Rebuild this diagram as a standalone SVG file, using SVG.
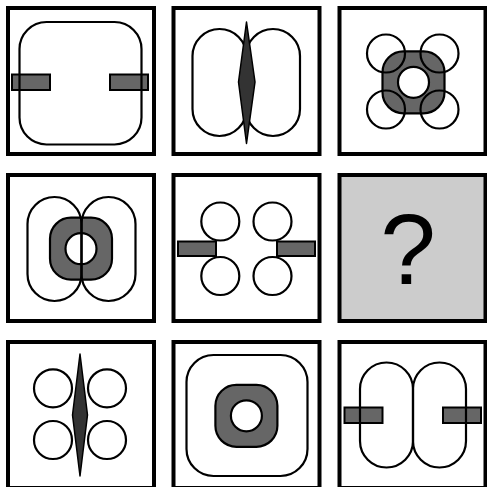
<svg xmlns="http://www.w3.org/2000/svg" xmlns:xlink="http://www.w3.org/1999/xlink" width="487" height="487" viewBox="0 0 487 487">
<style>
.frame{fill:#fff;stroke:#000;stroke-width:4}
.qf{fill:#ccc;stroke:#000;stroke-width:4}
.ol{fill:none;stroke:#000;stroke-width:2.2}
.bar{fill:#666;stroke:#000;stroke-width:2}
.dia{fill:#333;stroke:#000;stroke-width:1.5;stroke-linejoin:round}
.donut{fill:#666;stroke:#000;stroke-width:2.2;fill-rule:evenodd}
.q{font-family:"Liberation Sans",Arial,sans-serif;font-size:100px;fill:#000;text-anchor:middle}
</style>
<defs>
<path id="donut" class="donut" d="M -10 -31 H 10 A 21 21 0 0 1 31 -10 V 10 A 21 21 0 0 1 10 31 H -10 A 21 21 0 0 1 -31 10 V -10 A 21 21 0 0 1 -10 -31 Z M 15.5 0 A 15.5 15.5 0 1 0 -15.5 0 A 15.5 15.5 0 1 0 15.5 0 Z"/>
</defs>
<rect width="487" height="487" fill="#fff"/>

<g id="cell1">
<rect class="frame" x="8" y="8" width="146" height="146"/>
<rect class="bar" x="12" y="74.5" width="38" height="15.5"/>
<rect class="bar" x="110" y="74.5" width="38" height="15.5"/>
<rect class="ol" x="19.5" y="22" width="122" height="122.5" rx="27"/>
</g>

<g id="cell2">
<rect class="frame" x="173.5" y="8" width="146" height="146"/>
<rect class="ol" x="192.5" y="29" width="54" height="107" rx="27"/>
<rect class="ol" x="246" y="29" width="54" height="107" rx="27"/>
<polygon class="dia" points="246.5,22 255,82 246.5,143.5 238.5,82"/>
</g>

<g id="cell3">
<rect class="frame" x="339.5" y="8" width="146" height="146"/>
<use xlink:href="#donut" href="#donut" x="413.5" y="82.3"/>
<circle class="ol" cx="386" cy="53.5" r="19"/>
<circle class="ol" cx="439.5" cy="53.5" r="19"/>
<circle class="ol" cx="386" cy="109.5" r="19"/>
<circle class="ol" cx="439.5" cy="109.5" r="19"/>
</g>

<g id="cell4">
<rect class="frame" x="8" y="175" width="146" height="146"/>
<use xlink:href="#donut" href="#donut" x="81" y="248.7"/>
<rect class="ol" x="27.5" y="197" width="54" height="104" rx="27"/>
<rect class="ol" x="81.5" y="197" width="54" height="104" rx="27"/>
</g>

<g id="cell5">
<rect class="frame" x="173.5" y="175" width="146" height="146"/>
<circle class="ol" cx="220.3" cy="221.5" r="19"/>
<circle class="ol" cx="220.3" cy="276" r="19"/>
<circle class="ol" cx="272.5" cy="221.5" r="19"/>
<circle class="ol" cx="272.5" cy="276" r="19"/>
<rect class="bar" x="178" y="241.5" width="38" height="14.5"/>
<rect class="bar" x="277" y="241.5" width="38" height="14.5"/>
</g>

<g id="cell6">
<rect class="qf" x="339.5" y="175" width="146" height="146"/>
<text class="q" x="408" y="284">?</text>
</g>

<g id="cell7">
<rect class="frame" x="8" y="342" width="146" height="146"/>
<circle class="ol" cx="53" cy="388.3" r="19"/>
<circle class="ol" cx="107" cy="388.3" r="19"/>
<circle class="ol" cx="53" cy="440" r="19"/>
<circle class="ol" cx="107" cy="440" r="19"/>
<polygon class="dia" points="80,354 87.5,415 80,476 72.5,415"/>
</g>

<g id="cell8">
<rect class="frame" x="173.5" y="342" width="146" height="146"/>
<rect class="ol" x="186.5" y="355" width="121" height="121" rx="27"/>
<use xlink:href="#donut" href="#donut" x="246.4" y="415.8"/>
</g>

<g id="cell9">
<rect class="frame" x="339.5" y="342" width="146" height="146"/>
<rect class="bar" x="344.5" y="407.5" width="38" height="15.5"/>
<rect class="bar" x="443" y="407.5" width="38" height="15.5"/>
<rect class="ol" x="360" y="362.5" width="53" height="105" rx="26.5"/>
<rect class="ol" x="413" y="362.5" width="53" height="105" rx="26.5"/>
</g>
</svg>
